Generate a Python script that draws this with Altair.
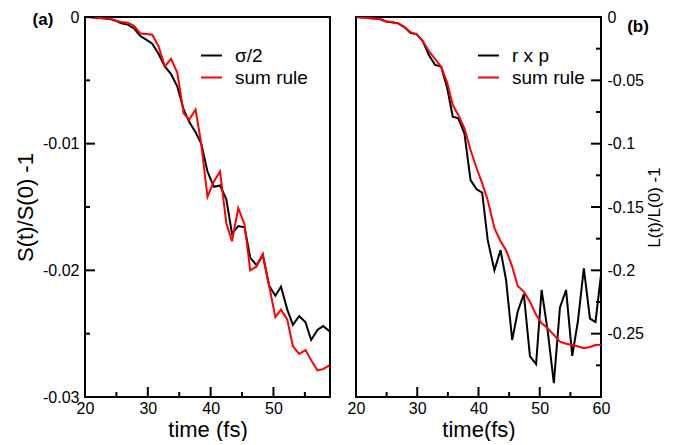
import altair as alt
import pandas as pd

FONT = "Liberation Sans"

# ---------------- panel (a) data ----------------
time_a = [20.0, 21.0, 21.9, 22.9, 23.9, 24.9, 25.8, 26.8, 27.8, 28.8, 29.8, 30.7, 31.7,
          32.7, 33.7, 34.7, 35.7, 36.6, 37.6, 38.5, 39.5, 40.5, 41.5, 42.5, 43.4, 44.4,
          45.4, 46.3, 47.3, 48.3, 49.3, 50.3, 51.2, 52.2, 53.1, 54.1, 55.1, 56.0, 57.0,
          57.9, 58.9]
sigma_half = [0.0, -0.00002, -0.00005, -0.0001, -0.00015, -0.0003, -0.0005, -0.0006,
              -0.0009, -0.0015, -0.0018, -0.0021, -0.0029, -0.0039, -0.0045, -0.0055,
              -0.0073, -0.0083, -0.0091, -0.0100, -0.0122, -0.0134, -0.0133, -0.0144,
              -0.0171, -0.0165, -0.0166, -0.0190, -0.0196, -0.0188, -0.0212, -0.0220,
              -0.0213, -0.0231, -0.0243, -0.0236, -0.0241, -0.0255, -0.0247, -0.0244,
              -0.0248]
sum_rule_a = [0.0, -0.00002, -0.00005, -0.0001, -0.00012, -0.0003, -0.0004, -0.00045,
              -0.0007, -0.0013, -0.00135, -0.0014, -0.0023, -0.0039, -0.0033, -0.0044,
              -0.0076, -0.0081, -0.0073, -0.0100, -0.0142, -0.0130, -0.0122, -0.0163,
              -0.0177, -0.0151, -0.0164, -0.0200, -0.0197, -0.0187, -0.0212, -0.0237,
              -0.0231, -0.0239, -0.0260, -0.0266, -0.0263, -0.0271, -0.0279, -0.0278,
              -0.0275]
series_a = ["\u03c3/2", "sum rule"]

# ---------------- panel (b) data ----------------
time_b = [20.0, 21.0, 22.0, 22.9, 23.9, 24.9, 25.9, 26.9, 27.9, 28.9, 29.9, 30.9, 31.9,
          32.9, 33.9, 34.9, 35.8, 36.7, 37.7, 38.7, 39.7, 40.6, 41.5, 42.6, 43.6, 44.5,
          45.5, 46.4, 47.4, 48.4, 49.4, 50.3, 51.3, 52.3, 53.3, 54.3, 55.3, 56.2, 57.2,
          58.2, 59.1, 60.0]
r_x_p = [0.0, -0.0003, -0.0008, -0.0012, -0.0016, -0.0035, -0.0042, -0.005, -0.008,
         -0.0125, -0.0137, -0.019, -0.030, -0.0378, -0.0392, -0.0563, -0.0787, -0.0800,
         -0.0918, -0.1287, -0.1360, -0.1387, -0.176, -0.200, -0.184, -0.2076, -0.255,
         -0.2326, -0.2187, -0.268, -0.2740, -0.2155, -0.248, -0.289, -0.2293, -0.2155,
         -0.2675, -0.2412, -0.1985, -0.2382, -0.2408, -0.2035]
sum_rule_b = [0.0, -0.0003, -0.0008, -0.0012, -0.0016, -0.0035, -0.0042, -0.005, -0.008,
              -0.0120, -0.0137, -0.019, -0.027, -0.033, -0.0392, -0.052, -0.0695,
              -0.0773, -0.0879, -0.105, -0.1194, -0.1313, -0.1444, -0.1668, -0.177,
              -0.184, -0.197, -0.2123, -0.2168, -0.2247, -0.235, -0.2418, -0.2457,
              -0.251, -0.2563, -0.258, -0.259, -0.260, -0.2615, -0.2605, -0.259, -0.2587]
series_b = ["r x p", "sum rule"]

# ---------------- ticks / labels ----------------
xa_major = [20, 30, 40, 50]
xa_minor = [25, 35, 45, 55]
ya_major = [0, -0.01, -0.02, -0.03]
ya_minor = [-0.005, -0.015, -0.025]
xb_major = [20, 30, 40, 50, 60]
xb_minor = [25, 35, 45, 55]
yb_labels = [0, -0.05, -0.1, -0.15, -0.2, -0.25]
yb_major = [0, -0.05, -0.1, -0.15, -0.2, -0.25, -0.3]
yb_minor = [-0.025, -0.075, -0.125, -0.175, -0.225, -0.275]

W, H = 245, 380
LABEL_EXPR = "datum.value == 0 ? '0' : '-' + format(-datum.value, '~g')"


def long_df(t, a, b, names):
    return pd.DataFrame({
        "t": list(t) + list(t),
        "v": list(a) + list(b),
        "series": [names[0]] * len(t) + [names[1]] * len(t),
    })


def panel(df, names, xdom, ydom, xvals, yvals, xmaj, xmin, ymaj, ymin,
          xtitle, ytitle, yorient, legx, tag, tagx, tagy):
    xs = alt.Scale(domain=xdom, nice=False, zero=False)
    ys = alt.Scale(domain=ydom, nice=False, zero=False)
    common = dict(ticks=False, tickSize=0, domain=False, grid=False,
                  labelFlush=False, labelOverlap=False, labelFontSize=16,
                  labelFont=FONT, titleFont=FONT, titleFontWeight="normal",
                  labelColor="black", titleColor="black")
    if yorient == "left":
        yaxis = alt.Axis(values=yvals, title=ytitle, orient="left", labelExpr=LABEL_EXPR,
                         labelPadding=6, titleFontSize=22, titlePadding=5, **common)
        tx0, txM, txm = 0, 10, 5
    else:
        yaxis = alt.Axis(values=yvals, title=ytitle, orient="right", labelExpr=LABEL_EXPR,
                         labelPadding=6, titleFontSize=17, titlePadding=3,
                         titleAngle=270, titleBaseline="top", **common)
        tx0, txM, txm = W, W - 10, W - 5
    xaxis = alt.Axis(values=xvals, title=xtitle, format="d", labelPadding=3,
                     titleFontSize=22, titlePadding=3, **common)

    X = alt.X("t:Q", scale=xs, axis=xaxis)
    Y = alt.Y("v:Q", scale=ys, axis=yaxis)

    lines = alt.Chart(df).mark_line(strokeWidth=2, clip=True).encode(
        x=X, y=Y,
        color=alt.Color("series:N",
                        scale=alt.Scale(domain=names, range=["#000000", "#ff0000"]),
                        sort=names,
                        legend=alt.Legend(orient="none", legendX=legx, legendY=27,
                                          title=None, symbolType="stroke",
                                          symbolStrokeWidth=2, symbolSize=441,
                                          labelFontSize=19, labelFont=FONT,
                                          labelColor="black", labelOffset=12,
                                          rowPadding=0, padding=0)),
        detail="series:N",
    )

    def yticks(vals, x2):
        return alt.Chart(pd.DataFrame({"v": vals})).mark_rule(
            color="black", strokeWidth=2).encode(
            y=Y, x=alt.value(tx0), x2=alt.value(x2))

    def xticks(vals, y2):
        return alt.Chart(pd.DataFrame({"t": vals})).mark_rule(
            color="black", strokeWidth=2).encode(
            x=X, y=alt.value(H), y2=alt.value(y2))

    tag_layer = alt.Chart(pd.DataFrame({"tag": [tag]})).mark_text(
        font=FONT, fontSize=17, fontWeight="bold", color="black",
        align="center", baseline="middle").encode(
        text="tag:N", x=alt.value(tagx), y=alt.value(tagy))

    return alt.layer(
        lines, yticks(ymaj, txM), yticks(ymin, txm),
        xticks(xmaj, H - 10), xticks(xmin, H - 5), tag_layer
    ).properties(width=W, height=H)


left = panel(long_df(time_a, sigma_half, sum_rule_a, series_a), series_a,
             [20, 59], [-0.03, 0], xa_major, ya_major, xa_major, xa_minor,
             ya_major, ya_minor, "time (fs)", "S(t)/S(0) -1", "left",
             115, "(a)", -42, 3)
right = panel(long_df(time_b, r_x_p, sum_rule_b, series_b), series_b,
              [20, 60], [-0.3, 0], xb_major, yb_labels, xb_major, xb_minor,
              yb_major, yb_minor, "time(fs)", "L(t)/L(0) -1", "right",
              121, "(b)", 282, 10)

chart = alt.hconcat(left, right, spacing=26, bounds="flush").resolve_scale(
    color="independent", x="independent", y="independent"
).properties(
    padding={"left": 5, "top": 0, "right": 0, "bottom": 0},
    background="white"
).configure_view(
    stroke="black", strokeWidth=2
)

chart.save("out.html", embed_options={"renderer": "svg", "actions": False})
